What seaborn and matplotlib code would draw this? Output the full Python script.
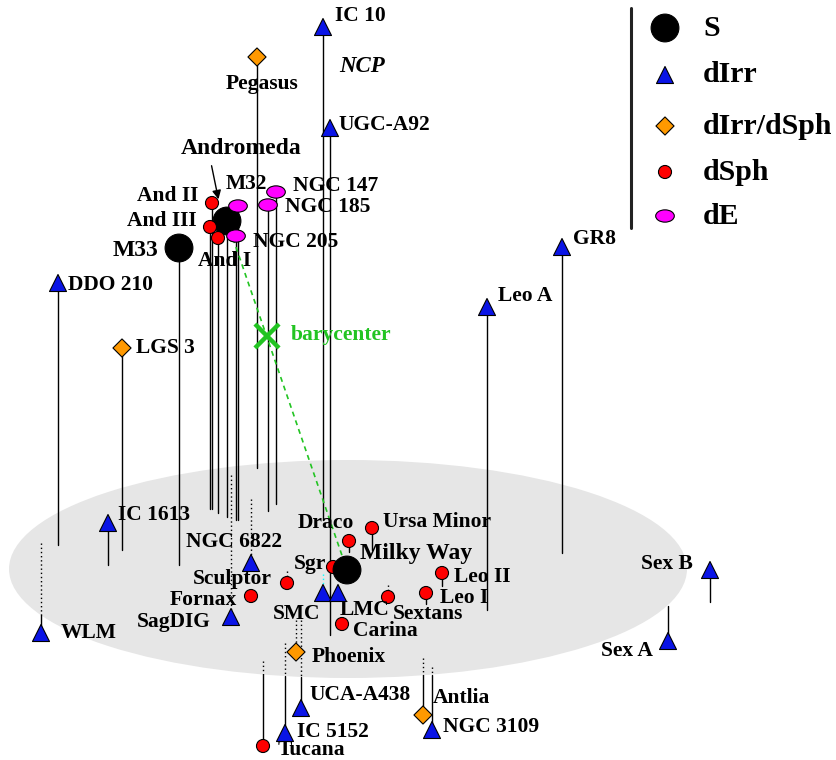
import numpy as np
import pandas as pd
import matplotlib.pyplot as plt
from matplotlib.patches import Ellipse
from matplotlib.path import Path
from matplotlib.transforms import Affine2D
import seaborn as sns

# projected positions of Local Group members (picture plane, y grows downward)
names = ["IC 10", "Pegasus", "UGC-A92", "M33", "Andromeda", "And II", "And III",
         "And I", "M32", "NGC 205", "NGC 185", "NGC 147", "DDO 210", "LGS 3",
         "GR8", "Leo A", "IC 1613", "WLM", "NGC 6822", "SagDIG", "Sculptor",
         "Fornax", "Sgr", "Milky Way", "Draco", "Ursa Minor", "SMC", "LMC",
         "Carina", "Sextans", "Leo II", "Leo I", "Phoenix", "UCA-A438",
         "IC 5152", "Tucana", "Antlia", "NGC 3109", "Sex B", "Sex A"]
kinds = ["dIrr", "dIrr/dSph", "dIrr", "S", "S", "dSph", "dSph",
         "dSph", "dE", "dE", "dE", "dE", "dIrr", "dIrr/dSph",
         "dIrr", "dIrr", "dIrr", "dIrr", "dIrr", "dIrr", "dSph",
         "dSph", "dSph", "S", "dSph", "dSph", "dIrr", "dIrr",
         "dSph", "dSph", "dSph", "dSph", "dIrr/dSph", "dIrr",
         "dIrr", "dSph", "dIrr/dSph", "dIrr", "dIrr", "dIrr"]
xs = [323, 257, 330, 179, 227, 212, 210,
      218, 238, 236, 268, 276, 58, 122,
      562, 487, 108, 41, 251, 231, 287,
      251, 333, 347, 349, 372, 323, 338,
      342, 388, 442, 426, 296, 301,
      285, 263, 423, 432, 710, 668]
ys = [27, 57, 128, 248, 221, 203, 227,
      238, 206, 236, 205, 192, 283, 348,
      247, 307, 523, 633, 563, 617, 583,
      596, 567, 570, 541, 528, 593, 593,
      624, 597, 573, 593, 652, 708,
      733, 746, 715, 730, 570, 641]
# where each drop line meets the galactic plane (nan = no line)
feet = [520, 468, 635, 565, 517, 509, 509,
        513, 520, 520, 511, 504, 545, 550,
        553, 610, 565, 543, 499, 475, 571,
        np.nan, np.nan, np.nan, 552, 550, 574, np.nan,
        np.nan, 585, 586, 604, 620, 620,
        643, 661, 658, 667, 602, 606]
bary_frac = 0.33  # barycenter position along Andromeda -> Milky Way

legend_kinds = ["S", "dIrr", "dIrr/dSph", "dSph", "dE"]

# ---- styling / layout ----
colors = {"S": "black", "dIrr": "#0a14e6", "dIrr/dSph": "#ff9900",
          "dSph": "#ff0000", "dE": "#ff00ff"}
oval = Path.unit_circle().transformed(Affine2D().scale(1.0, 0.66))
markers = {"S": "o", "dIrr": "^", "dIrr/dSph": "D", "dSph": "o", "dE": oval}
sizes = {"S": 400, "dIrr": 150, "dIrr/dSph": 85, "dSph": 88, "dE": 180}

label_pos = {
    "IC 10": (12, -11, "left"), "Pegasus": (5, 27, "center"),
    "UGC-A92": (8, -3, "left"), "M33": (-21, 2, "right"),
    "And II": (-14, -7, "right"), "And III": (-13, -6, "right"),
    "And I": (7, 23, "center"), "M32": (-12, -22, "left"),
    "NGC 205": (17, 6, "left"), "NGC 185": (17, 2, "left"),
    "NGC 147": (17, -6, "left"), "DDO 210": (10, 2, "left"),
    "LGS 3": (14, 0, "left"), "GR8": (11, -8, "left"),
    "Leo A": (11, -11, "left"), "IC 1613": (10, -8, "left"),
    "WLM": (20, 0, "left"), "NGC 6822": (-17, -21, "center"),
    "SagDIG": (-20, 5, "right"), "Sculptor": (-15, -4, "right"),
    "Fornax": (-14, 4, "right"), "Sgr": (-7, -3, "right"),
    "Milky Way": (13, -17, "left"), "Draco": (5, -18, "right"),
    "Ursa Minor": (11, -6, "left"), "SMC": (-26, 21, "center"),
    "LMC": (2, 17, "left"), "Carina": (11, 7, "left"),
    "Sextans": (5, 17, "left"), "Leo II": (12, 4, "left"),
    "Leo I": (14, 5, "left"), "Phoenix": (16, 5, "left"),
    "UCA-A438": (8, -13, "left"), "IC 5152": (12, -1, "left"),
    "Tucana": (15, 4, "left"), "Antlia": (10, -17, "left"),
    "NGC 3109": (11, -3, "left"), "Sex B": (-17, -6, "right"),
    "Sex A": (-15, 10, "right"),
}
big = {"Andromeda", "Milky Way", "M33"}

sns.set_style("white")
plt.rcParams["font.family"] = ["Liberation Serif", "DejaVu Serif"]
plt.rcParams["font.weight"] = "bold"
plt.rcParams["text.color"] = "black"

fig = plt.figure(figsize=(8.37, 7.6), dpi=100)
ax = fig.add_axes([0, 0, 1, 1])

# galactic plane
pc, pw, ph = (348, 569), 678, 218
ax.add_patch(Ellipse(pc, pw, ph, facecolor="#e6e6e6", edgecolor="none", zorder=0))


def plane_bottom(x):
    u = (x - pc[0]) / (pw / 2)
    if abs(u) >= 1:
        return -np.inf
    return pc[1] + ph / 2 * np.sqrt(1 - u * u)


# drop lines: solid when in view, dotted when hidden under the plane
for name, x, y, f in zip(names, xs, ys, feet):
    if np.isnan(f):
        continue
    dot_kw = dict(color="cyan" if name == "SMC" else "black", lw=1.0,
                  linestyle=(0, (1, 2)), zorder=1)
    if y < f:
        ax.plot([x, x], [y, f], color="black", lw=1.0, zorder=1)
        continue
    edge = plane_bottom(x)
    if edge <= f:
        ax.plot([x, x], [f, y], color="black", lw=1.0, zorder=1)
        continue
    ax.plot([x, x], [f, min(y, edge)], **dot_kw)
    if y > edge:
        ax.plot([x, x], [edge, y], color="black", lw=1.0, zorder=1)

# Andromeda - Milky Way axis and barycenter
m31 = names.index("Andromeda")
mw = names.index("Milky Way")
ax.plot([xs[m31], xs[mw]], [ys[m31], ys[mw]], color="#22c422", lw=1.2,
        linestyle=(0, (3, 2.5)), zorder=2)
bx = xs[m31] + bary_frac * (xs[mw] - xs[m31])
by = ys[m31] + bary_frac * (ys[mw] - ys[m31])
ax.plot(bx, by, marker="x", ms=17, mew=3.2, color="#22c422", zorder=4)
ax.text(bx + 24, by - 1, "barycenter", color="#22c422", fontsize=15.5,
        ha="left", va="center")

df = pd.DataFrame({"name": names, "kind": kinds, "x": xs, "y": ys})
sns.scatterplot(data=df, x="x", y="y", hue="kind", style="kind", size="kind",
                palette=colors, markers=markers, sizes=sizes,
                edgecolor="black", linewidth=0.8, legend=False, ax=ax, zorder=3)

for name, x, y in zip(names, xs, ys):
    if name == "Andromeda":
        ax.text(x + 14, y - 73, name, fontsize=17, ha="center", va="center")
        ax.annotate("", xy=(x - 8, y - 19), xytext=(x - 16, y - 58),
                    arrowprops=dict(arrowstyle="-|>", color="black", lw=1.0,
                                    mutation_scale=13), zorder=4)
        continue
    dx, dy, ha = label_pos[name]
    ax.text(x + dx, y + dy, name, fontsize=17 if name in big else 15.5,
            ha=ha, va="center", zorder=5)

ax.text(362, 66, "NCP", fontsize=16.5, style="italic", ha="center", va="center")

# legend panel
ax.plot([631, 631], [8, 228], color="#222222", lw=2.2)
leg = pd.DataFrame({"kind": legend_kinds, "x": [665] * 5,
                    "y": [28, 75, 126, 172, 216]})
sns.scatterplot(data=leg, x="x", y="y", hue="kind", style="kind", size="kind",
                palette=colors, markers=markers, sizes=sizes,
                edgecolor="black", linewidth=0.8, legend=False, ax=ax, zorder=3)
for k, ly in zip(leg["kind"], leg["y"]):
    ax.text(703, ly, k, fontsize=21.5, ha="left", va="center")

ax.set_xlim(0, 837)
ax.set_ylim(760, 0)
ax.axis("off")
fig.savefig("out.png", dpi=100)
